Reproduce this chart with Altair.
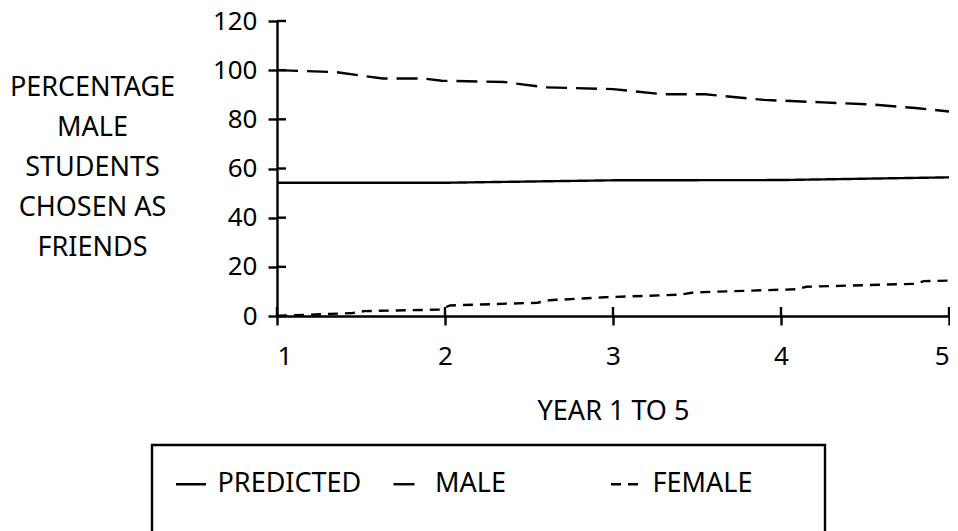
import altair as alt
import pandas as pd

FONT = "Noto Sans"

series_names = ["PREDICTED", "MALE", "FEMALE"]

predicted_x = [1, 2, 3, 4, 5]
predicted_y = [54.2, 54.2, 55.2, 55.3, 56.4]

male_x = [1.0, 1.35, 1.63, 1.87, 1.98, 2.2, 2.35, 2.6, 3.0, 3.3, 3.55, 3.9, 4.25, 4.55, 4.8, 5.0]
male_y = [100, 99.2, 96.6, 96.6, 95.7, 95.4, 95.2, 93.0, 92.3, 90.2, 90.2, 87.9, 86.9, 86.0, 84.6, 83.2]

female_x = [1.0, 1.1, 1.45, 1.52, 1.97, 2.03, 2.55, 2.62, 2.95, 3.4, 3.48, 4.1, 4.15, 4.8, 4.85, 5.0]
female_y = [0, 0.3, 1.2, 2.0, 2.6, 4.3, 5.4, 6.4, 7.6, 8.7, 9.6, 10.9, 11.9, 13.1, 14.2, 14.4]

x_ticks = [1, 2, 3, 4, 5]
y_ticks = [0, 20, 40, 60, 80, 100, 120]

rows = []
for name, xs, ys in [("PREDICTED", predicted_x, predicted_y),
                     ("MALE", male_x, male_y),
                     ("FEMALE", female_x, female_y)]:
    for i, (a, b) in enumerate(zip(xs, ys)):
        rows.append({"year": a, "value": b, "series": name, "idx": i})
df = pd.DataFrame(rows)

xscale = alt.Scale(domain=[1, 5], nice=False, zero=False)
yscale = alt.Scale(domain=[0, 120], nice=False)

x_axis = alt.Axis(values=x_ticks, title="YEAR 1 TO 5", format="d",
                  labelBaseline="middle", labelPadding=31,
                  titleY=95, titleBaseline="middle")
y_axis = alt.Axis(values=y_ticks,
                  title=["PERCENTAGE", "MALE", "STUDENTS", "CHOSEN AS", "FRIENDS"],
                  titleAngle=0, titleAlign="center", titleBaseline="middle",
                  titleX=-185, titleY=66, titleLineHeight=40,
                  labelPadding=11)

# keep the box as wide as the reference: inner spaces survive trimming
PAD = "\u00a0" * 7 + "\u200b"
lines = alt.Chart(df).mark_line(color="black", strokeWidth=2.4).encode(
    x=alt.X("year:Q", scale=xscale, axis=x_axis),
    y=alt.Y("value:Q", scale=yscale, axis=y_axis),
    strokeDash=alt.StrokeDash(
        "series:N",
        scale=alt.Scale(domain=series_names, range=[[1, 0], [21, 9], [10, 7]]),
        sort=series_names,
        legend=alt.Legend(orient="none", legendX=-125, legendY=424,
                          direction="horizontal", title=" ", titleOrient="bottom",
                          titleFontSize=24, titlePadding=0,
                          symbolType="stroke", symbolSize=900,
                          symbolStrokeWidth=2.4, symbolStrokeColor="black",
                          labelOffset=10, columnPadding=20.5, gridAlign="all",
                          labelExpr="datum.label == 'FEMALE' ? 'FEMALE" + PAD + "' : datum.label",
                          padding=22.5, strokeColor="black",
                          labelFont=FONT, labelFontSize=27, labelColor="black"),
    ),
    order="idx:Q",
)

ytick_df = pd.DataFrame({"value": y_ticks})
ytick_in = alt.Chart(ytick_df).mark_rule(color="black", strokeWidth=2.4).encode(
    y=alt.Y("value:Q", scale=yscale, axis=y_axis),
    x=alt.value(0), x2=alt.value(9),
)

xtick_df = pd.DataFrame({"year": x_ticks})
xtick_in = alt.Chart(xtick_df).mark_rule(color="black", strokeWidth=2.4).encode(
    x=alt.X("year:Q", scale=xscale, axis=x_axis),
    y=alt.value(286), y2=alt.value(295),
)

chart = alt.layer(lines, ytick_in, xtick_in).properties(
    width=672, height=295,
    autosize=alt.AutoSizeParams(type="none"),
    padding={"left": 269, "top": 13, "right": 1, "bottom": 215},
).configure_view(stroke=None).configure_axis(
    grid=False, domainColor="black", domainWidth=2.4,
    tickColor="black", tickWidth=2.4, tickSize=9,
    labelFont=FONT, labelFontSize=26, labelColor="black",
    titleFont=FONT, titleFontSize=27, titleColor="black", titleFontWeight="normal",
).configure_legend(strokeWidth=2.4)

chart.save("out.html", embed_options={"renderer": "svg", "actions": False})
